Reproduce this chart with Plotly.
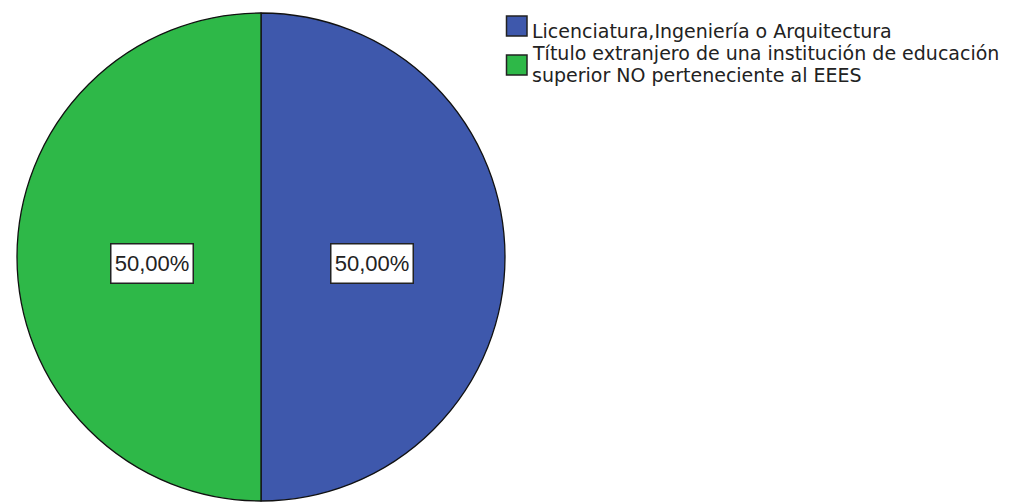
import math
import plotly.graph_objects as go

categories = ["Licenciatura,Ingeniería o Arquitectura",
              "Título extranjero de una institución de educación superior NO perteneciente al EEES"]
legend_lines = [["Licenciatura,Ingeniería o Arquitectura"],
                ["Título extranjero de una institución de educación", "superior NO perteneciente al EEES"]]
values = [50, 50]
labels_text = ["50,00%", "50,00%"]
colors = ["#3E58AC", "#2EB848"]

W, H = 1010, 503
LABEL_FONT = "Liberation Sans, Arial, sans-serif"
LEGEND_FONT = "DejaVu Sans, sans-serif"

# pie placement (pixels)
left_px, right_px, top_px, bottom_px = 17, 505, 13, 501
cx = (left_px + right_px) / 2
cy = (top_px + bottom_px) / 2
r = min(right_px - left_px, bottom_px - top_px) / 2

def px(x):
    return x / W

def py(y):
    return 1 - y / H

fig = go.Figure(go.Pie(
    labels=categories, values=values, sort=False, direction="clockwise", rotation=0,
    marker=dict(colors=colors, line=dict(color="#111111", width=1.3)),
    textinfo="none", hoverinfo="label+percent", showlegend=False,
    domain=dict(x=[px(left_px), px(right_px)], y=[py(bottom_px), py(top_px)]),
))

annotations = []
shapes = []
total = sum(values)
start = 0.0
for i, v in enumerate(values):
    mid = start + v / 2
    ang = 2 * math.pi * mid / total  # clockwise from 12 o'clock
    lx = cx + 0.45 * r * math.sin(ang)
    ly = cy - 0.45 * r * math.cos(ang) + 6.5
    annotations.append(dict(
        x=px(lx + 1), y=py(ly), xref="paper", yref="paper", text=labels_text[i],
        showarrow=False, xanchor="center", yanchor="middle",
        width=79, height=36, align="center", valign="middle",
        font=dict(family=LABEL_FONT, size=22, color="#222222"),
        bgcolor="#ffffff", bordercolor="#222222", borderwidth=1.5, borderpad=1,
    ))
    start += v

# legend
sq_y = [16, 55]
line_y = [[30.5], [53.5, 74.5]]
for i, cat in enumerate(categories):
    shapes.append(dict(type="rect", xref="paper", yref="paper",
                       x0=px(506.5), x1=px(527), y0=py(sq_y[i]), y1=py(sq_y[i] + 20),
                       fillcolor=colors[i], line=dict(color="#222222", width=1.5)))
    for j, t in enumerate(legend_lines[i]):
        annotations.append(dict(
            x=px(530), y=py(line_y[i][j]), xref="paper", yref="paper", text=t,
            showarrow=False, xanchor="left", yanchor="middle",
            font=dict(family=LEGEND_FONT, size=19, color="#222222"),
        ))

fig.update_layout(
    width=W, height=H, margin=dict(l=0, r=0, t=0, b=0),
    paper_bgcolor="#ffffff", plot_bgcolor="#ffffff",
    annotations=annotations, shapes=shapes, showlegend=False,
)
fig.write_html("out.html", config={"displayModeBar": False},
               post_script="document.body.style.margin='0px';document.body.style.overflow='hidden';")
